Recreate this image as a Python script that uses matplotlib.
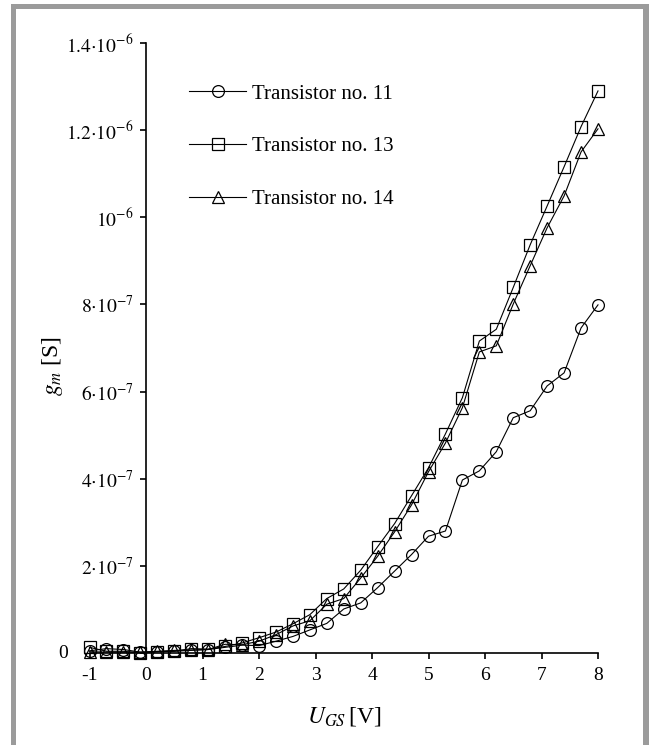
import matplotlib
matplotlib.use("Agg")
import matplotlib.pyplot as plt
from matplotlib.patches import Rectangle

plt.rcParams['font.family'] = ['Liberation Serif', 'DejaVu Serif']
plt.rcParams['mathtext.fontset'] = 'stix'

# gate-source voltage [V]
ugs = [-1.0, -0.7, -0.4, -0.1, 0.2, 0.5, 0.8, 1.1, 1.4, 1.7, 2.0,
       2.3, 2.6, 2.9, 3.2, 3.5, 3.8, 4.1, 4.4, 4.7, 5.0, 5.3,
       5.6, 5.9, 6.2, 6.5, 6.8, 7.1, 7.4, 7.7, 8.0]

# transconductance in units of 1e-7 S
gm_t11 = [0.05, 0.10, 0.08, 0.02, 0.03, 0.04, 0.06, 0.08, 0.13, 0.18, 0.17,
          0.27, 0.38, 0.53, 0.68, 1.01, 1.15, 1.50, 1.88, 2.26, 2.68, 2.80,
          3.97, 4.18, 4.62, 5.40, 5.56, 6.13, 6.43, 7.46, 7.99]
gm_t13 = [0.13, 0.04, 0.04, 0.00, 0.03, 0.04, 0.10, 0.09, 0.15, 0.23, 0.35,
          0.48, 0.67, 0.88, 1.25, 1.47, 1.90, 2.44, 2.97, 3.61, 4.25, 5.03,
          5.86, 7.16, 7.43, 8.39, 9.37, 10.26, 11.16, 12.08, 12.90]
gm_t14 = [0.03, 0.02, 0.02, 0.02, 0.04, 0.06, 0.07, 0.08, 0.20, 0.19, 0.27,
          0.42, 0.62, 0.74, 1.12, 1.25, 1.72, 2.22, 2.78, 3.40, 4.16, 4.82,
          5.63, 6.91, 7.05, 8.01, 8.89, 9.76, 10.49, 11.50, 12.03]

labels = ["Transistor no. 11", "Transistor no. 13", "Transistor no. 14"]
markers = ["o", "s", "^"]

yticks = [0, 2e-7, 4e-7, 6e-7, 8e-7, 1e-6, 1.2e-6, 1.4e-6]
ytick_labels = ["", r"$2{\cdot}10^{-7}$", r"$4{\cdot}10^{-7}$", r"$6{\cdot}10^{-7}$",
                r"$8{\cdot}10^{-7}$", r"$10^{-6}$", r"$1.2{\cdot}10^{-6}$",
                r"$1.4{\cdot}10^{-6}$"]
xticks = [-1, 0, 1, 2, 3, 4, 5, 6, 7, 8]

W, H = 649, 745
fig = plt.figure(figsize=(W / 100, H / 100), dpi=100)
ax = fig.add_axes([89.5 / W, 1 - 653 / H, 508.5 / W, 610 / H])

for series, lab, m in zip([gm_t11, gm_t13, gm_t14], labels, markers):
    yv = [v * 1e-7 for v in series]
    ax.plot(ugs, yv, color='black', lw=0.8, marker=m, ms=9 if m != 'o' else 8.5,
            mfc='none', mec='black', mew=0.9, label=lab, clip_on=False)

ax.set_xlim(-1, 8)
ax.set_ylim(0, 1.4e-6)

ax.spines['top'].set_visible(False)
ax.spines['right'].set_visible(False)
ax.spines['left'].set_position(('data', 0))
for s in ['left', 'bottom']:
    ax.spines[s].set_linewidth(1.2)

ax.set_xticks(xticks)
ax.set_xticklabels([str(t) for t in xticks])
ax.set_yticks(yticks)
ax.set_yticklabels(ytick_labels)
ax.tick_params(axis='both', direction='out', length=4, width=1.2, labelsize=14)
ax.tick_params(axis='x', pad=6)
ax.tick_params(axis='y', pad=5)

# the zero label sits left of the x axis start
ax.text(-1.38, 0, "0", ha='right', va='center', fontsize=14)

ax.set_xlabel(r"$U_{GS}\,$[V]", fontsize=17)
ax.xaxis.set_label_coords(0.5, -0.085)
ax.set_ylabel(r"$g_m$ [S]", fontsize=17)
ax.yaxis.set_label_coords(-0.048, 0.47)

ax.legend(loc='upper left', bbox_to_anchor=(189 / W, 1 - 84 / H),
          bbox_transform=fig.transFigure, frameon=False, fontsize=15,
          handlelength=2.74, handletextpad=0.3, labelspacing=1.6,
          borderpad=0, borderaxespad=0)

# grey frame around the figure
grey = '#9b9b9b'
fig.add_artist(Rectangle((11 / W, 0), 5 / W, 1 - 4 / H, transform=fig.transFigure,
                         color=grey, lw=0))
fig.add_artist(Rectangle((11 / W, 1 - 9 / H), 637 / W, 5 / H, transform=fig.transFigure,
                         color=grey, lw=0))
fig.add_artist(Rectangle((643 / W, 0), 6 / W, 1 - 4 / H, transform=fig.transFigure,
                         color=grey, lw=0))

fig.savefig("out.png", dpi=100)
